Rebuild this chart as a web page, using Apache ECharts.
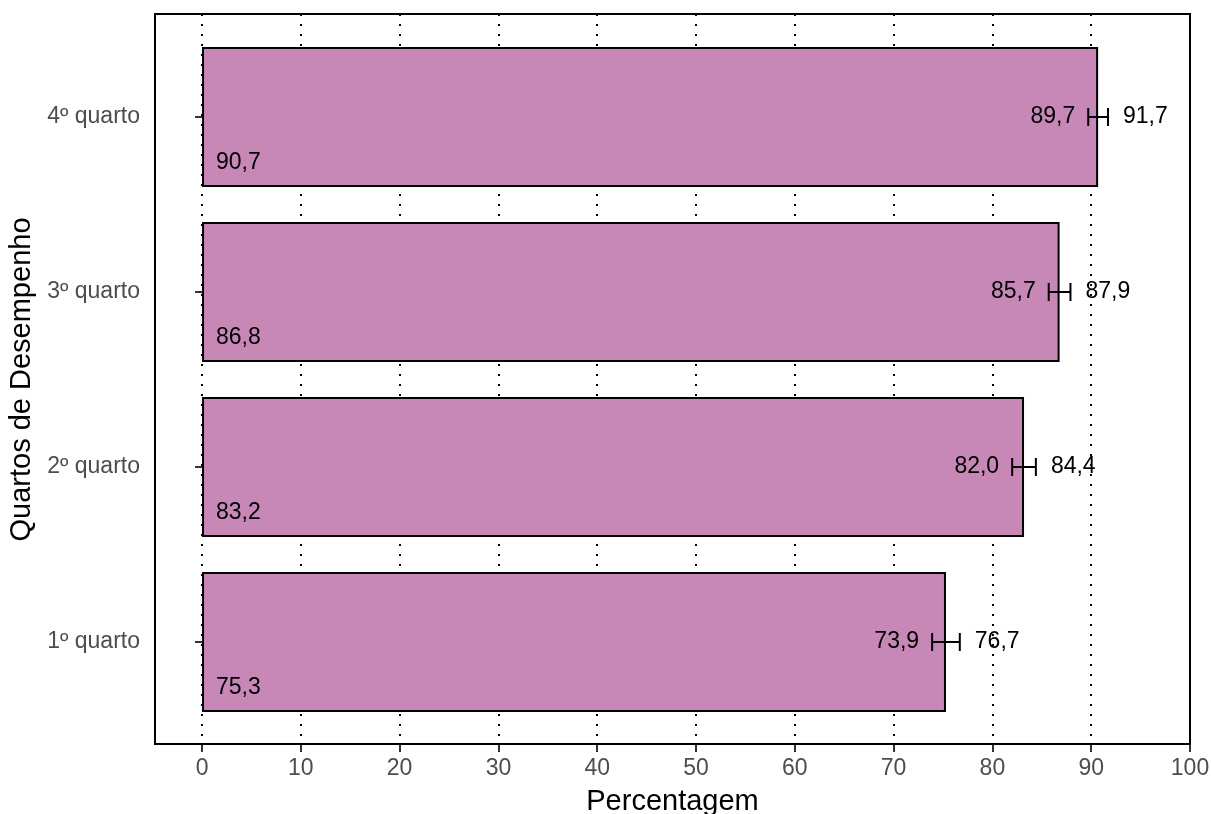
<!DOCTYPE html>
<html>
<head>
<meta charset="utf-8">
<script src="https://cdn.jsdelivr.net/npm/echarts@6/dist/echarts.min.js"></script>
<style>
  html, body { margin: 0; padding: 0; background: #fff; }
  #chart { width: 1211px; height: 814px; }
</style>
</head>
<body>
<div id="chart"></div>
<script>
var categories = ['1º quarto', '2º quarto', '3º quarto', '4º quarto'];
var values = [75.3, 83.2, 86.8, 90.7];
var lower = [73.9, 82.0, 85.7, 89.7];
var upper = [76.7, 84.4, 87.9, 91.7];
var ticks = [0, 10, 20, 30, 40, 50, 60, 70, 80, 90, 100];

var font = 'Liberation Sans, Arial, sans-serif';

function fmt(v) {
    return v.toFixed(1).replace('.', ',')
}

var errData = categories.map(function (c, i) {
    return [lower[i], upper[i], values[i], i]
});

chart = echarts.init(document.getElementById('chart'));

chart.setOption({
    animation: false,
    textStyle: { fontFamily: font },
    grid: [
        { left: 155, right: 21, top: 29.5, bottom: 84.5, containLabel: false, outerBoundsMode: 'none' },
        { left: 155, right: 21, top: 14, bottom: 70, containLabel: false, outerBoundsMode: 'none',
          show: true, borderColor: '#000', borderWidth: 2, backgroundColor: 'transparent', z: 5 }
    ],
    xAxis: [
        {
            gridIndex: 0, type: 'value', min: -4.76, max: 100,
            axisLine: { show: false }, axisTick: { show: false },
            axisLabel: { show: false }, splitLine: { show: false }
        },
        {
            gridIndex: 1, type: 'value', min: -4.76, max: 100,
            axisLine: { show: false },
            axisTick: { show: true, customValues: ticks, length: 8, lineStyle: { color: '#333', width: 2 } },
            axisLabel: { customValues: ticks, fontSize: 23, color: '#4D4D4D', margin: 13, fontFamily: font },
            splitLine: { show: true, lineStyle: { color: '#000', width: 2, type: [2, 8] } },
            name: 'Percentagem', nameLocation: 'middle', nameGap: 43,
            nameTextStyle: { fontSize: 29, color: '#000', fontFamily: font }
        }
    ],
    yAxis: [
        {
            gridIndex: 0, type: 'category', data: categories,
            axisLine: { show: false },
            axisTick: { show: true, alignWithLabel: true, length: 7, lineStyle: { color: '#333', width: 2 } },
            axisLabel: { fontSize: 23, color: '#4D4D4D', margin: 15, fontFamily: font },
            name: 'Quartos de Desempenho', nameLocation: 'middle', nameGap: 116, nameRotate: 90,
            nameTextStyle: { fontSize: 29, color: '#000', fontFamily: font }
        },
        {
            gridIndex: 1, type: 'value', min: 0, max: 1, show: false
        }
    ],
    series: [
        {
            type: 'bar',
            xAxisIndex: 0, yAxisIndex: 0,
            data: values,
            barWidth: '80%',
            itemStyle: { color: '#C788B8', borderColor: '#000', borderWidth: 2 },
            z: 2
        },
        {
            type: 'custom',
            xAxisIndex: 0, yAxisIndex: 0,
            data: errData,
            encode: { x: [0, 1], y: 3 },
            z: 10,
            renderItem: function (params, api) {
                var lo = api.value(0), hi = api.value(1), v = api.value(2), c = api.value(3);
                var p1 = api.coord([lo, c]);
                var p2 = api.coord([hi, c]);
                var p0 = api.coord([0, c]);
                var band = api.size([0, 1])[1];
                var cap = 9;
                var ls = { stroke: '#000', lineWidth: 2 };
                var ts = { fontSize: 23, fill: '#000', fontFamily: font, verticalAlign: 'middle' };
                return {
                    type: 'group',
                    children: [
                        { type: 'line', shape: { x1: p1[0], y1: p1[1], x2: p2[0], y2: p2[1] }, style: ls },
                        { type: 'line', shape: { x1: p1[0], y1: p1[1] - cap, x2: p1[0], y2: p1[1] + cap }, style: ls },
                        { type: 'line', shape: { x1: p2[0], y1: p2[1] - cap, x2: p2[0], y2: p2[1] + cap }, style: ls },
                        { type: 'text', x: p1[0] - 13, y: p1[1], style: Object.assign({ text: fmt(lo), align: 'right' }, ts) },
                        { type: 'text', x: p2[0] + 15, y: p2[1], style: Object.assign({ text: fmt(hi), align: 'left' }, ts) },
                        { type: 'text', x: p0[0] + 14, y: p0[1] + band * 0.26, style: Object.assign({ text: fmt(v), align: 'left' }, ts) }
                    ]
                }
            }
        }
    ]
});
</script>
</body>
</html>
